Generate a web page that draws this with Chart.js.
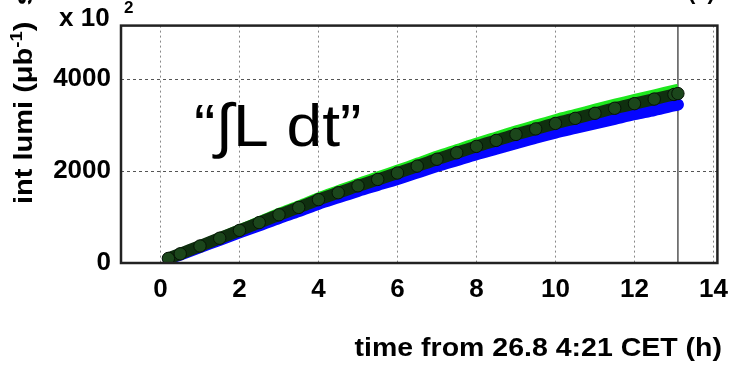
<!DOCTYPE html>
<html>
<head>
<meta charset="utf-8">
<script src="https://cdn.jsdelivr.net/npm/chart.js@4.4.1/dist/chart.umd.min.js"></script>
<style>
  html, body { margin:0; padding:0; background:#fff; }
  #wrap { width:739px; height:368px; position:relative; }
</style>
</head>
<body>
<div id="wrap"><canvas id="lumi-chart" width="739" height="368"></canvas></div>
<script>
// hours since 26.8 4:21 CET
var hours = [0.2,0.5,1,1.5,2,2.5,3,3.5,4,4.5,5,5.5,6,6.5,7,7.5,8,8.5,9,9.5,10,10.5,11,11.5,12,12.5,13,13.1];

// integrated luminosity, x 10^2 ub^-1
var lumiMarkers = [100,200,370,540,710,880,1050,1210,1380,1530,1680,1820,1960,2110,2260,2400,2540,2670,2800,2920,3040,3150,3260,3370,3470,3570,3670,3690];
var lumiGreen   = [125,235,415,590,770,945,1125,1290,1465,1620,1775,1918,2065,2218,2370,2512,2655,2788,2920,3045,3168,3280,3392,3502,3604,3706,3806,3826];
var lumiBlue    = [90,185,345,505,665,820,980,1130,1290,1430,1570,1700,1830,1970,2110,2240,2370,2490,2610,2730,2840,2940,3040,3140,3240,3330,3430,3450];

var xTicks = [0,2,4,6,8,10,12,14];
var yTicks = [0,2000,4000];
var fillEnd = 13.1;

function pairs(xs, ys) {
	return xs.map(function(x, i) { return {x: x, y: ys[i]}; });
}

var FONT = '"Liberation Sans", Arial, sans-serif';

/***************************  extra drawing  *******************************/
var decor = {
	id: 'decor',
	beforeDatasetsDraw: function(chart) {
		var ctx = chart.ctx, x = chart.scales.x, a = chart.chartArea;
		// end-of-fill marker line
		var px = x.getPixelForValue(fillEnd);
		ctx.save();
		ctx.strokeStyle = '#555';
		ctx.lineWidth = 1.5;
		ctx.beginPath();
		ctx.moveTo(px, a.top);
		ctx.lineTo(px, a.bottom);
		ctx.stroke();
		ctx.restore();
	},
	afterDraw: function(chart) {
		var ctx = chart.ctx, a = chart.chartArea;
		ctx.save();
		// frame
		ctx.strokeStyle = '#222';
		ctx.lineWidth = 2.5;
		ctx.strokeRect(a.left, a.top, a.right - a.left, a.bottom - a.top);

		ctx.fillStyle = '#000';
		ctx.textBaseline = 'alphabetic';

		// exponent label
		ctx.font = 'bold 26px ' + FONT;
		ctx.textAlign = 'left';
		ctx.fillText('x 10', 59, 26);
		ctx.font = 'bold 17px ' + FONT;
		ctx.fillText('2', 124, 13);

		// cut-off text at the top right
		ctx.font = 'bold 22px ' + FONT;
		ctx.fillText('(a)', 688, -1);
		ctx.restore();

		// x title, stretched like the original
		ctx.save();
		ctx.fillStyle = '#000';
		ctx.font = 'bold 25px ' + FONT;
		ctx.textAlign = 'right';
		ctx.translate(722, 356);
		ctx.scale(1.14, 1);
		ctx.fillText('time from 26.8 4:21 CET (h)', 0, 0);
		ctx.restore();

		// y title
		ctx.save();
		ctx.fillStyle = '#000';
		ctx.translate(32, 204);
		ctx.rotate(-Math.PI / 2);
		ctx.scale(1.16, 1);
		ctx.textAlign = 'left';
		ctx.font = 'bold 25px ' + FONT;
		var s1 = 'int lumi (\u03bcb';
		ctx.fillText(s1, 0, 0);
		var w = ctx.measureText(s1).width;
		ctx.font = 'bold 16px ' + FONT;
		ctx.fillText('-1', w, -10);
		w += ctx.measureText('-1').width;
		ctx.font = 'bold 25px ' + FONT;
		ctx.fillText(')  s', w, 0);
		ctx.restore();

		// big label inside the plot
		ctx.save();
		ctx.fillStyle = '#000';
		ctx.font = '60px ' + FONT;
		ctx.textAlign = 'left';
		ctx.translate(194, 146);
		ctx.scale(1.07, 1);
		ctx.fillText('\u201c\u222bL dt\u201d', 0, 0);
		ctx.restore();
	}
};

/******************************  Chart.js  *********************************/
var ctx = document.getElementById('lumi-chart').getContext('2d');
var tickFont = { family: FONT, size: 26, weight: 'bold' };

new Chart(ctx, {
	type: 'line',
	data: {
		datasets: [
			{
				data: pairs(hours, lumiMarkers),
				order: 1,
				borderColor: '#0f2f0f',
				borderWidth: 12,
				pointRadius: 6.2,
				pointBackgroundColor: '#1b461b',
				pointBorderColor: '#061406',
				pointBorderWidth: 1,
				tension: 0.3
			},
			{
				data: pairs(hours, lumiGreen),
				order: 2,
				borderColor: '#1ee81e',
				borderWidth: 7,
				pointRadius: 0,
				tension: 0.3
			},
			{
				data: pairs(hours, lumiBlue),
				order: 3,
				borderColor: '#0505ff',
				borderWidth: 12,
				borderCapStyle: 'round',
				pointRadius: 0,
				tension: 0.3
			}
		]
	},
	options: {
		responsive: false,
		animation: false,
		events: [],
		layout: { padding: { left: 0, right: 13, top: 22, bottom: 0 } },
		plugins: { legend: { display: false }, tooltip: { enabled: false } },
		scales: {
			x: {
				type: 'linear',
				min: -1,
				max: 14.1,
				afterFit: function(s) { s.height = 105; },
				afterBuildTicks: function(s) { s.ticks = xTicks.map(function(v) { return {value: v}; }); },
				ticks: { color: '#000', font: tickFont, padding: 11, maxRotation: 0, callback: function(v) { return String(v); } },
				grid: { color: '#888', lineWidth: 1, drawTicks: false },
				border: { display: false, dash: [2, 3] }
			},
			y: {
				type: 'linear',
				min: 0,
				max: 5170,
				afterFit: function(s) { s.width = 121; },
				afterBuildTicks: function(s) { s.ticks = yTicks.map(function(v) { return {value: v}; }); },
				ticks: { color: '#000', font: tickFont, padding: 10, callback: function(v) { return String(v); } },
				grid: { color: '#555', lineWidth: 1, drawTicks: false },
				border: { display: false, dash: [3, 3] }
			}
		}
	},
	plugins: [decor]
});
</script>
</body>
</html>
